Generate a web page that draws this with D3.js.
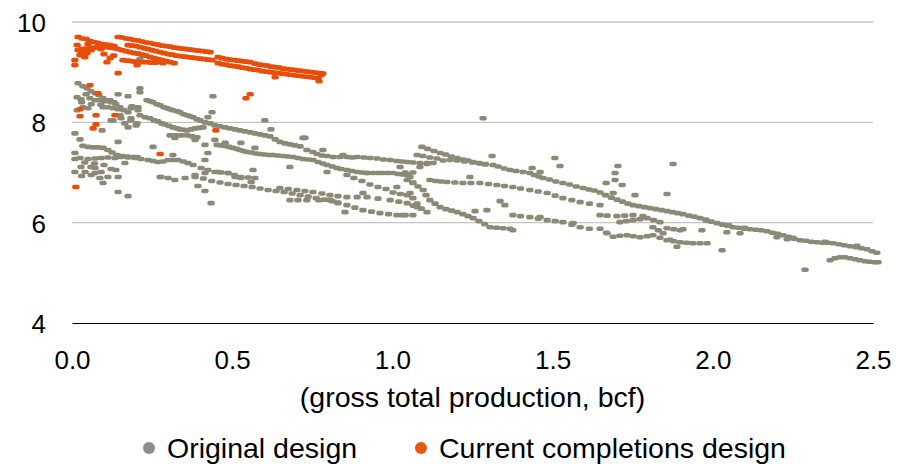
<!DOCTYPE html>
<html>
<head>
<meta charset="utf-8">
<script src="https://d3js.org/d3.v7.min.js"></script>
<style>
  body { margin: 0; background: #fff; }
  text { font-family: "Liberation Sans", Arial, sans-serif; fill: #000; }
</style>
</head>
<body>
<div id="chart"></div>
<script>

// tick values
var xTicks = [0, 0.5, 1.0, 1.5, 2.0, 2.5];
var yTicks = [4, 6, 8, 10];
var seriesNames = ["Original design", "Current completions design"];
var xTitle = "(gross total production, bcf)";

// Original design points [bcf, value]
var originalPts = [
  // top-left cluster
  [0.019,8.78],[0.034,8.72],[0.047,8.68],[0.059,8.62],[0.072,8.58],[0.084,8.54],[0.097,8.48],[0.109,8.44],
  [0.122,8.40],[0.137,8.36],[0.15,8.30],[0.162,8.24],[0.175,8.20],
  [0.016,8.50],[0.028,8.46],[0.044,8.56],[0.056,8.48],[0.072,8.44],[0.087,8.44],[0.103,8.42],[0.119,8.44],[0.131,8.40],
  [0.016,8.24],[0.034,8.30],[0.05,8.28],[0.097,8.30],[0.112,8.30],[0.128,8.28],[0.144,8.26],
  [0.03,8.40],[0.06,8.36],[0.09,8.35],
  [0.144,8.56],[0.175,8.52],[0.212,8.68],[0.212,8.60],[0.187,8.32],[0.206,8.30],[0.184,8.28],[0.206,8.24],
  [0.153,8.08],[0.184,8.08],[0.122,8.04],[0.128,8.04],[0.15,8.14],[0.175,7.90],[0.203,7.98],
  [0.009,7.78],[0.025,7.66],[0.094,7.84],[0.144,7.61],[0.165,7.98],[0.184,8.04],[0.2,7.94],
  [0.212,9.26],
  // upper strands
  [0.234,8.44],[0.244,8.42],[0.253,8.40],[0.265,8.36],[0.275,8.34],[0.287,8.30],[0.297,8.28],[0.306,8.26],
  [0.315,8.24],[0.328,8.22],[0.337,8.20],[0.348,8.16],[0.359,8.14],[0.368,8.12],[0.378,8.10],[0.39,8.06],
  [0.40,8.04],[0.415,8.00],[0.431,7.98],[0.446,7.94],[0.462,7.92],[0.478,7.90],[0.493,7.88],[0.509,7.86],
  [0.524,7.84],[0.54,7.82],[0.556,7.80],[0.571,7.78],[0.587,7.76],[0.602,7.74],[0.618,7.72],[0.634,7.66],
  [0.649,7.61],[0.665,7.58],[0.68,7.56],[0.696,7.54],[0.712,7.52],[0.733,7.45],[0.752,7.41],[0.765,7.37],
  [0.78,7.34],[0.796,7.33],[0.815,7.31],[0.836,7.31],[0.858,7.31],[0.874,7.30],[0.89,7.31],[0.911,7.30],
  [0.93,7.29],[0.952,7.28],[0.972,7.26],[0.993,7.25],[1.014,7.23],[1.03,7.22],[1.046,7.21],[1.064,7.20],
  [1.086,7.19],[1.108,7.19],[1.127,7.19],
  [0.721,7.69],[0.783,7.45],[0.846,7.35],
  [0.212,8.14],[0.228,8.10],[0.243,8.08],[0.256,8.04],[0.268,8.02],[0.28,7.98],[0.29,7.96],[0.303,7.93],
  [0.315,7.90],[0.328,7.88],[0.337,7.86],[0.35,7.85],[0.359,7.84],[0.372,7.86],[0.384,7.88],[0.396,7.89],[0.409,7.90],
  [0.306,7.74],[0.322,7.74],[0.34,7.74],[0.359,7.74],[0.375,7.72],[0.39,7.70],[0.321,7.69],[0.384,7.65],
  [0.44,8.52],[0.437,8.20],[0.424,8.10],[0.602,8.04],[0.621,7.86],[0.727,7.69],
  [0.415,7.55],[0.446,7.65],[0.478,7.59],[0.527,7.59],[0.571,7.49],
  [0.453,7.55],[0.465,7.54],[0.478,7.53],[0.49,7.51],[0.502,7.49],[0.514,7.47],[0.524,7.45],[0.535,7.43],
  [0.546,7.41],[0.56,7.40],[0.574,7.38],[0.587,7.37],[0.6,7.36],[0.614,7.35],[0.627,7.35],[0.643,7.34],
  [0.659,7.33],[0.674,7.32],[0.69,7.31],[0.705,7.29],[0.721,7.27],[0.737,7.26],[0.752,7.25],[0.768,7.21],
  [0.783,7.18],[0.796,7.15],[0.812,7.12],[0.827,7.09],[0.84,7.07],[0.858,7.05],[0.874,7.03],[0.89,7.01],
  [0.905,7.00],[0.921,6.99],[0.939,6.99],[0.955,6.99],[0.97,6.99],[0.986,6.99],[1.002,6.99],[1.018,6.97],
  [1.033,6.96],[1.046,6.95],[1.064,7.00],[1.086,7.11],[1.108,7.17],
  // left band near 7.3 and below
  [0.034,7.53],[0.05,7.51],[0.066,7.50],[0.081,7.50],[0.097,7.49],[0.112,7.45],[0.125,7.40],[0.14,7.35],
  [0.156,7.33],[0.172,7.32],[0.19,7.31],[0.203,7.31],
  [0.009,7.27],[0.025,7.29],[0.05,7.27],[0.072,7.28],[0.091,7.29],[0.112,7.30],[0.134,7.29],[0.153,7.31],
  [0.175,7.30],[0.197,7.29],[0.215,7.27],[0.237,7.25],[0.253,7.23],[0.268,7.21],[0.284,7.22],[0.3,7.25],
  [0.315,7.25],[0.331,7.25],[0.347,7.22],[0.362,7.19],[0.378,7.15],[0.403,7.09],[0.424,7.05],[0.446,7.01],
  [0.465,7.00],[0.487,6.99],[0.507,6.95],[0.527,6.91],[0.55,6.90],[0.571,6.89],
  [0.04,7.20],[0.07,7.18],[0.1,7.15],[0.06,6.95],[0.03,6.93],
  [0.009,7.39],[0.165,7.19],[0.253,7.51],[0.315,7.35],[0.424,7.39],[0.415,7.25],[0.565,7.05],[0.68,7.11],[0.796,7.01],
  [0.009,7.01],[0.041,7.01],[0.072,7.09],[0.091,7.01],[0.112,6.91],[0.144,6.91],[0.028,7.11],[0.059,7.11],
  [0.072,6.99],[0.087,6.89],[0.097,6.79],[0.122,7.07],[0.137,7.05],
  [0.278,6.91],[0.3,6.89],[0.321,6.85],[0.353,6.89],[0.384,6.91],[0.415,6.99],[0.456,7.01],[0.487,6.99],
  [0.509,6.91],[0.527,6.89],[0.559,6.81],
  [0.144,6.61],[0.175,6.53],[0.393,6.73],[0.415,6.63],[0.434,6.39],[0.275,6.91],
  // lower bands
  [0.384,6.95],[0.41,6.88],[0.436,6.83],[0.462,6.80],[0.487,6.77],[0.512,6.75],[0.537,6.73],[0.562,6.71],
  [0.587,6.68],[0.612,6.65],[0.637,6.63],[0.662,6.61],[0.687,6.58],[0.712,6.55],[0.737,6.52],[0.762,6.49],
  [0.787,6.46],[0.812,6.43],[0.83,6.39],
  [0.649,6.69],[0.675,6.67],[0.702,6.65],[0.727,6.63],[0.752,6.61],[0.78,6.58],[0.805,6.55],[0.83,6.53],
  [0.858,6.51],[0.89,6.51],[0.921,6.51],[0.955,6.48],[0.993,6.45],[1.02,6.42],[1.046,6.39],[1.065,6.34],[1.077,6.31],
  [0.68,6.45],[0.705,6.45],[0.733,6.45],[0.77,6.45],[0.805,6.45],[0.83,6.40],[0.858,6.35],[0.883,6.30],
  [0.908,6.25],[0.935,6.22],[0.961,6.19],[0.988,6.17],[1.014,6.15],[1.04,6.15],[1.064,6.15],
  [0.858,6.95],[0.88,6.89],[0.905,6.83],[0.93,6.76],[0.955,6.71],[0.98,6.67],[1.002,6.60],[1.025,6.57],
  [1.046,6.55],[1.064,6.49],[1.077,6.38],[1.09,6.28],[1.108,6.21],
  // middle and right
  [1.092,7.51],[1.11,7.47],[1.13,7.43],[1.149,7.39],[1.166,7.36],[1.184,7.32],[1.202,7.29],[1.22,7.26],
  [1.236,7.24],[1.252,7.21],[1.27,7.19],[1.29,7.17],[1.314,7.15],[1.33,7.12],[1.349,7.08],[1.367,7.05],
  [1.386,7.03],[1.408,7.01],[1.429,6.99],[1.443,6.95],[1.457,6.92],[1.47,6.89],[1.49,6.86],[1.51,6.82],
  [1.532,6.79],[1.553,6.76],[1.574,6.72],[1.595,6.69],[1.613,6.66],[1.63,6.64],[1.648,6.60],[1.665,6.55],
  [1.683,6.50],[1.701,6.46],[1.718,6.42],[1.735,6.38],[1.751,6.35],[1.769,6.33],[1.787,6.31],[1.804,6.29],
  [1.822,6.27],[1.84,6.25],[1.857,6.23],[1.874,6.21],[1.89,6.19],[1.907,6.17],[1.925,6.14],[1.942,6.12],
  [1.96,6.09],[1.978,6.06],[1.995,6.02],[2.013,5.99],[2.03,5.96],[2.046,5.94],[2.063,5.91],[2.08,5.90],
  [2.098,5.88],[2.116,5.87],[2.134,5.86],[2.151,5.85],[2.169,5.83],[2.186,5.80],[2.202,5.78],[2.219,5.75],
  [2.236,5.72],[2.254,5.68],[2.272,5.65],[2.29,5.64],[2.307,5.62],[2.325,5.61],[2.342,5.60],[2.358,5.60],
  [2.375,5.59],[2.393,5.57],[2.41,5.55],[2.428,5.53],[2.446,5.51],[2.464,5.49],[2.481,5.47],[2.497,5.43],[2.512,5.40],
  [1.98,6.04],[2.05,5.95],[2.1,5.90],[2.25,5.70],[2.35,5.62],[2.45,5.54],
  [1.077,7.35],[1.095,7.33],[1.117,7.30],[1.139,7.28],[1.158,7.24],[1.18,7.25],[1.202,7.24],[1.225,7.22],
  [1.25,7.20],[1.273,7.18],[1.29,7.16],
  [1.024,7.11],[1.04,7.00],[1.055,6.91],[1.064,6.80],[1.08,6.72],[1.096,6.65],[1.105,6.55],[1.117,6.45],
  [1.133,6.38],[1.149,6.31],[1.167,6.27],[1.185,6.24],[1.202,6.21],[1.22,6.17],[1.236,6.13],[1.252,6.09],
  [1.27,6.03],[1.288,5.97],[1.305,5.91],[1.325,5.90],[1.345,5.89],[1.367,5.88],[1.376,5.85],
  [1.117,6.85],[1.135,6.83],[1.152,6.82],[1.17,6.81],[1.195,6.80],[1.22,6.79],[1.245,6.79],[1.273,6.79],
  [1.3,6.77],[1.326,6.75],[1.35,6.73],[1.376,6.71],[1.4,6.68],[1.429,6.65],[1.455,6.62],[1.483,6.59],
  [1.508,6.54],[1.532,6.49],[1.56,6.45],[1.586,6.41],[1.615,6.38],[1.648,6.35],
  [1.376,6.15],[1.4,6.13],[1.429,6.11],[1.455,6.08],[1.483,6.05],[1.508,6.03],[1.532,6.01],[1.56,5.96],
  [1.586,5.91],[1.615,5.88],[1.648,5.88],[1.668,5.80],[1.689,5.72],[1.71,5.74],[1.732,5.75],[1.752,5.73],
  [1.773,5.71],[1.795,5.73],[1.813,5.75],[1.835,5.70],[1.857,5.65],[1.878,5.63],[1.898,5.61],[1.918,5.60],
  [1.938,5.59],[1.96,5.59],[1.982,5.59],
  [1.813,5.91],[1.83,5.85],[1.845,5.79],[1.866,5.66],[1.888,5.52],
  [1.461,6.11],[1.564,5.99],[1.67,5.79],
  [1.648,6.15],[1.67,6.14],[1.701,6.13],[1.725,6.14],[1.751,6.15],[1.782,6.13],
  [1.71,6.01],[1.73,6.03],[1.751,6.05],[1.773,6.07],[1.795,6.09],[1.815,6.05],[1.835,6.01],[1.857,5.89],
  [1.878,5.87],[1.898,5.85],
  [2.366,5.25],[2.381,5.29],[2.397,5.31],[2.412,5.31],[2.428,5.29],[2.444,5.27],[2.459,5.25],[2.475,5.23],
  [2.49,5.22],[2.506,5.21],[2.516,5.21],
  [2.044,5.81],[2.085,5.79],[2.2,5.71],[2.232,5.67],[2.029,5.45],[2.288,5.06],[1.966,5.85],[1.907,5.87],
  [1.704,7.13],[1.695,6.99],[1.695,6.85],[1.717,6.75],[1.667,6.79],[1.876,7.17],[1.857,6.57],[1.757,6.55],[1.689,6.59],
  [1.283,8.08],[1.311,7.33],[1.507,7.29],[1.523,7.13],[1.436,7.09],[1.461,7.01],[1.242,6.91],[1.295,6.25],
  [1.258,6.23],[1.336,6.43],[1.351,6.35],[1.055,6.59],[0.908,6.59],[0.852,6.21],[1.03,6.15],[0.921,6.99],
  [1.014,6.71],[1.046,6.85],[1.064,6.79]
];

// Current completions design points
var currentPts = [
  [0.144,9.70],[0.156,9.69],[0.169,9.67],[0.181,9.66],[0.194,9.64],[0.206,9.63],[0.219,9.61],[0.231,9.59],
  [0.244,9.58],[0.256,9.56],[0.269,9.55],[0.281,9.53],[0.294,9.52],[0.306,9.51],[0.319,9.49],[0.331,9.48],
  [0.344,9.47],[0.356,9.46],[0.369,9.45],[0.381,9.44],[0.394,9.43],[0.406,9.42],[0.419,9.41],[0.431,9.40],
  [0.456,9.30],[0.468,9.28],[0.481,9.26],[0.493,9.25],[0.506,9.24],[0.518,9.23],[0.531,9.22],[0.543,9.21],[0.556,9.20],
  [0.571,9.17],[0.584,9.15],[0.596,9.14],[0.609,9.13],[0.621,9.11],[0.634,9.10],[0.646,9.09],[0.659,9.07],
  [0.671,9.06],[0.684,9.05],[0.696,9.04],[0.709,9.03],[0.721,9.02],[0.734,9.01],[0.746,9.00],[0.759,8.99],[0.774,8.98],
  [0.019,9.70],[0.031,9.67],[0.044,9.66],[0.056,9.62],[0.069,9.60],[0.081,9.58],[0.094,9.56],[0.106,9.55],
  [0.119,9.54],[0.131,9.52],
  [0.175,9.54],[0.187,9.53],[0.2,9.52],[0.212,9.50],[0.225,9.48],[0.237,9.46],[0.25,9.44],[0.262,9.42],
  [0.275,9.40],[0.287,9.38],[0.3,9.36],[0.312,9.35],[0.325,9.33],[0.337,9.32],[0.35,9.31],[0.362,9.30],
  [0.375,9.29],[0.387,9.28],[0.4,9.27],[0.412,9.26],[0.425,9.25],[0.437,9.24],
  [0.456,9.18],[0.468,9.16],[0.481,9.15],[0.493,9.13],[0.506,9.12],[0.518,9.11],[0.531,9.09],[0.543,9.08],
  [0.556,9.06],[0.568,9.05],[0.581,9.04],[0.593,9.02],[0.606,9.01],[0.618,9.00],[0.631,8.99],[0.643,8.98],
  [0.656,8.97],[0.668,8.96],[0.681,8.95],[0.693,8.94],[0.706,8.93],[0.718,8.92],[0.731,8.91],[0.743,8.90],
  [0.756,8.89],[0.768,8.88],[0.783,8.97],[0.777,8.94],[0.771,8.82],
  [0.019,9.44],[0.031,9.46],[0.044,9.47],[0.056,9.48],[0.069,9.49],[0.081,9.50],[0.094,9.50],[0.106,9.50],
  [0.119,9.49],[0.131,9.48],[0.144,9.46],[0.156,9.44],[0.169,9.42],[0.181,9.40],[0.194,9.38],[0.206,9.37],
  [0.219,9.35],[0.231,9.33],[0.244,9.30],[0.256,9.28],[0.269,9.26],[0.281,9.24],[0.294,9.22],[0.306,9.20],[0.319,9.18],
  [0.159,9.24],[0.172,9.23],[0.184,9.22],[0.197,9.21],[0.209,9.20],[0.222,9.20],[0.234,9.20],[0.247,9.19],
  [0.259,9.19],[0.272,9.20],[0.284,9.18],
  [0.03,9.40],[0.06,9.44],[0.09,9.46],[0.1,9.36],[0.04,9.30],[0.13,9.33],[0.016,9.54],[0.05,9.56],
  [0.009,9.24],[0.009,9.14],[0.025,9.34],[0.047,9.38],[0.119,9.28],[0.109,9.20],[0.203,9.14],
  [0.056,8.74],[0.081,8.58],[0.025,8.26],[0.025,8.12],[0.075,8.14],[0.134,8.14],[0.075,7.96],[0.066,7.88],
  [0.144,8.98],[0.556,8.56],[0.543,8.48],[0.634,8.90],[0.449,7.84],[0.275,7.37],[0.012,6.71]
];

var colors = ["#8c8a77", "#e84d0a"];
var legendColors = ["#8c8c8c", "#e8550d"];

var W = 897, H = 464;
var svg = d3.select("#chart").append("svg")
    .attr("width", W)
    .attr("height", H);

var x = d3.scaleLinear().domain([0, 2.5]).range([72, 873]);
var y = d3.scaleLinear().domain([4, 10]).range([323, 22]);

// gridlines
svg.append("g")
  .selectAll("line")
  .data(yTicks.filter(function(d) { return d > 4; }))
  .enter().append("line")
    .attr("x1", x(0)).attr("x2", x(2.5))
    .attr("y1", function(d) { return y(d); })
    .attr("y2", function(d) { return y(d); })
    .style("stroke", "#c4c4c0")
    .style("stroke-width", 1.3);

// x axis
var xAxis = svg.append("g")
  .attr("transform", "translate(0," + y(4) + ")")
  .call(d3.axisBottom(x).tickValues(xTicks).tickSize(0)
    .tickFormat(d3.format(".1f")));
xAxis.select(".domain").style("stroke", "#000").style("stroke-width", 1.2);
xAxis.selectAll("text")
  .style("font-size", "26px")
  .attr("dy", 0)
  .attr("y", 46);

// y axis
var yAxis = svg.append("g")
  .attr("transform", "translate(" + x(0) + ",0)")
  .call(d3.axisLeft(y).tickValues(yTicks).tickSize(0).tickFormat(d3.format("d")));
yAxis.select(".domain").remove();
yAxis.selectAll("text")
  .style("font-size", "26px")
  .attr("x", -26)
  .attr("dy", "0.36em");

// axis title
svg.append("text")
  .attr("x", x(1.25))
  .attr("y", 407)
  .attr("text-anchor", "middle")
  .style("font-size", "28.5px")
  .text(xTitle);

// points
var series = [originalPts, currentPts];
series.forEach(function(pts, i) {
  svg.append("g")
    .selectAll("rect")
    .data(pts)
    .enter().append("rect")
      .attr("x", function(d) { return x(d[0]) - 3.7; })
      .attr("y", function(d) { return y(d[1]) - 2.3; })
      .attr("width", 7.4)
      .attr("height", 4.6)
      .attr("rx", 2)
      .style("fill", colors[i]);
});

// legend
var legendX = [149, 421];
var lg = svg.append("g");
seriesNames.forEach(function(name, i) {
  lg.append("circle")
    .attr("cx", legendX[i]).attr("cy", 448).attr("r", 6)
    .style("fill", legendColors[i]);
  lg.append("text")
    .attr("x", legendX[i] + 18)
    .attr("y", 458)
    .style("font-size", "28.5px")
    .text(name);
});

</script>
</body>
</html>
